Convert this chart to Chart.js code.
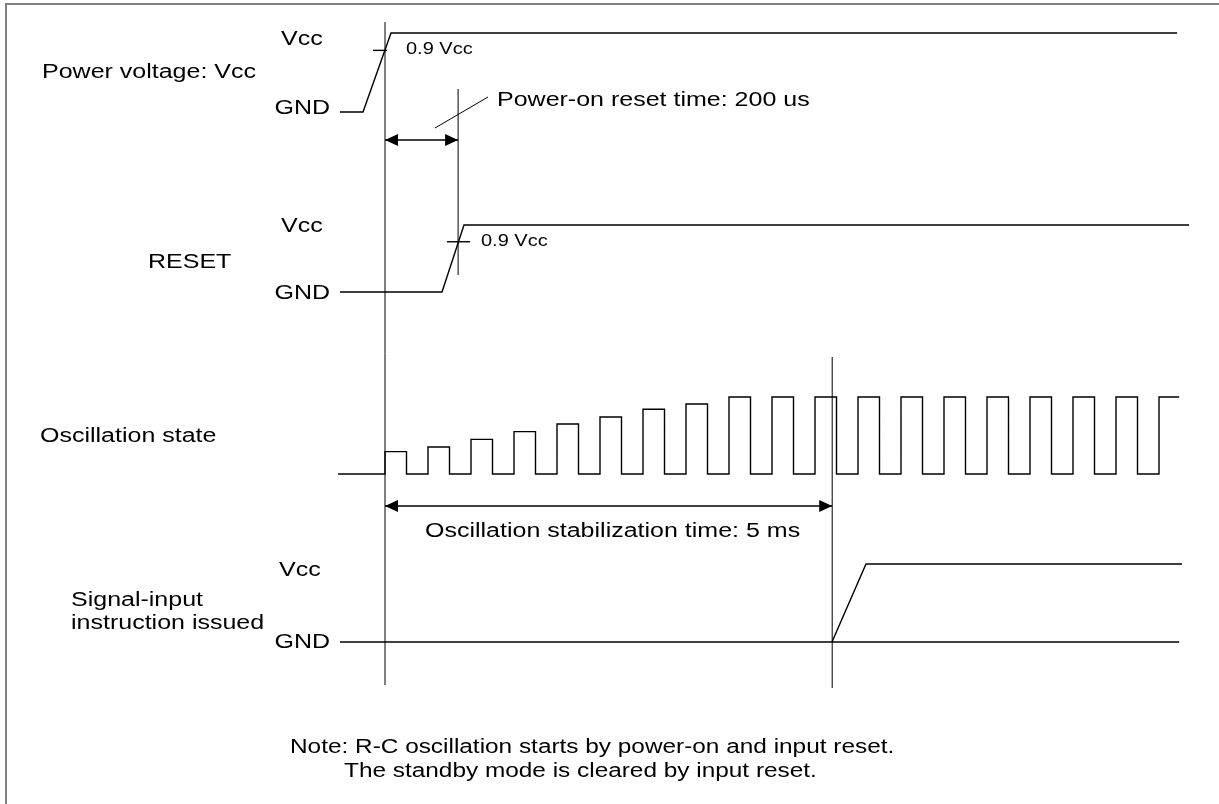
<!DOCTYPE html>
<html>
<head>
<meta charset="utf-8">
<script src="https://cdn.jsdelivr.net/npm/chart.js@4/dist/chart.umd.min.js"></script>
<style>
  body { margin: 0; background: #fff; }
  #wrap { width: 1219px; height: 804px; position: relative; }
</style>
</head>
<body>
<div id="wrap"><canvas id="myChart"></canvas></div>
<script>
// time axis in oscillation periods, 0 = power-on
// signal levels: 0 = GND, 1 = Vcc
const powerT = [-1.047, -0.512, 0.14, 18.42];
const powerLevel = [0, 0, 1, 1];
const powerTickT = [-0.28, 0.05];
const powerTickLevel = 0.78;

const resetT = [-1.047, 1.326, 1.837, 18.7];
const resetLevel = [0, 0, 1, 1];
const resetTickT = [1.44, 1.98];
const resetTickLevel = 0.75;

const oscStartT = -1.09;
const oscRiseT = [0, 1, 2, 3, 4, 5, 6, 7, 8, 9, 10, 11, 12, 13, 14, 15, 16, 17, 18];
const oscAmp = [0.29, 0.35, 0.45, 0.55, 0.65, 0.74, 0.84, 0.91, 1, 1, 1, 1, 1, 1, 1, 1, 1, 1, 1];
const oscHighWidth = 0.5;
const oscEndT = 18.47;

const sigGndT = [-1.047, 18.47];
const sigRiseT = [10.395, 11.186, 18.535];
const sigRiseLevel = [0, 1, 1];

const resetTimeT = 1.7;      // power-on reset time: 200 us
const stableT = 10.4;        // oscillation stabilization time: 5 ms

// layout (pixels)
const W = 1219, H = 804;
const T0PX = 385, PX_PER_T = 43;
const rows = { y0: [112, 33], y1: [292, 225], y2: [474, 397], y3: [642, 564] }; // [GND px, Vcc px]
const SX = 1.25;
const FONT = '"Liberation Sans", Arial, Helvetica, sans-serif';

function rowScale(r) {
    let b = r[0], h = r[1];
    return { type: 'linear', axis: 'y', display: false, min: -(H - b) / (b - h), max: b / (b - h) };
}

function pts(ts, ls) {
    let out = [];
    for (let i = 0; i < ts.length; i++) out.push({ x: ts[i], y: ls[i] });
    return out;
}

let osc = [{ x: oscStartT, y: 0 }];
for (let i = 0; i < oscRiseT.length; i++) {
    let t = oscRiseT[i], a = oscAmp[i];
    osc.push({ x: t, y: 0 }, { x: t, y: a });
    if (i < oscRiseT.length - 1) {
        osc.push({ x: t + oscHighWidth, y: a }, { x: t + oscHighWidth, y: 0 });
    } else {
        osc.push({ x: oscEndT, y: a });
    }
}

function ds(data, axis) {
    return {
        data: data, yAxisID: axis, showLine: true, pointRadius: 0,
        borderColor: '#000', borderWidth: 1.4, fill: false, tension: 0
    };
}

function txt(ctx, s, x, y, size, align) {
    ctx.save();
    ctx.translate(x, y);
    ctx.scale(SX, 1);
    ctx.font = size + 'px ' + FONT;
    ctx.textAlign = align || 'left';
    ctx.textBaseline = 'middle';
    ctx.fillStyle = '#000';
    ctx.fillText(s, 0, 0);
    ctx.restore();
}

function arrow(ctx, x1, x2, y) {
    ctx.beginPath();
    ctx.moveTo(x1, y); ctx.lineTo(x2, y);
    ctx.stroke();
    ctx.beginPath();
    ctx.moveTo(x1, y); ctx.lineTo(x1 + 13, y - 6); ctx.lineTo(x1 + 13, y + 6); ctx.closePath();
    ctx.moveTo(x2, y); ctx.lineTo(x2 - 13, y - 6); ctx.lineTo(x2 - 13, y + 6); ctx.closePath();
    ctx.fill();
}

const decor = {
    id: 'decor',
    afterDatasetsDraw(chart) {
        const ctx = chart.ctx;
        const xs = chart.scales.x;
        const px = t => xs.getPixelForValue(t);
        ctx.save();
        // frame
        ctx.strokeStyle = '#808080';
        ctx.lineWidth = 2;
        ctx.beginPath();
        ctx.moveTo(6, H); ctx.lineTo(6, 4); ctx.lineTo(W, 4);
        ctx.stroke();

        // marker lines
        ctx.strokeStyle = '#000';
        ctx.lineWidth = 1;
        ctx.beginPath();
        ctx.moveTo(px(0), 22); ctx.lineTo(px(0), 685);
        ctx.moveTo(px(resetTimeT), 89); ctx.lineTo(px(resetTimeT), 275);
        ctx.moveTo(px(stableT), 357); ctx.lineTo(px(stableT), 688);
        ctx.moveTo(435, 128); ctx.lineTo(488, 97);
        ctx.stroke();

        ctx.fillStyle = '#000';
        ctx.lineWidth = 1.3;
        arrow(ctx, px(0), px(resetTimeT), 140);
        arrow(ctx, px(0), px(stableT), 506);

        // labels
        txt(ctx, 'Vcc', 281, 39, 20);
        txt(ctx, 'Power voltage: Vcc', 42, 72, 20);
        txt(ctx, 'GND', 330, 108, 20, 'right');
        txt(ctx, '0.9 Vcc', 406, 50, 16);
        txt(ctx, 'Power-on reset time: 200 us', 497, 100, 20);

        txt(ctx, 'Vcc', 281, 226, 20);
        txt(ctx, 'RESET', 148, 262, 20);
        txt(ctx, 'GND', 330, 293, 20, 'right');
        txt(ctx, '0.9 Vcc', 481, 242, 16);

        txt(ctx, 'Oscillation state', 40, 436, 20);
        txt(ctx, 'Oscillation stabilization time: 5 ms', 425, 531, 20);

        txt(ctx, 'Vcc', 279, 570, 20);
        txt(ctx, 'Signal-input', 71, 600, 20);
        txt(ctx, 'instruction issued', 71, 623, 20);
        txt(ctx, 'GND', 330, 642, 20, 'right');

        txt(ctx, 'Note: R-C oscillation starts by power-on and input reset.', 290, 748, 19.5);
        txt(ctx, 'The standby mode is cleared by input reset.', 344, 772, 19.5);
        ctx.restore();
    }
};

var ctx = document.getElementById('myChart').getContext('2d');
var chart = new Chart(ctx, {
    type: 'scatter',
    data: {
        datasets: [
            ds(pts(powerT, powerLevel), 'y0'),
            ds(pts(powerTickT, [powerTickLevel, powerTickLevel]), 'y0'),
            ds(pts(resetT, resetLevel), 'y1'),
            ds(pts(resetTickT, [resetTickLevel, resetTickLevel]), 'y1'),
            ds(osc, 'y2'),
            ds(pts(sigGndT, [0, 0]), 'y3'),
            ds(pts(sigRiseT, sigRiseLevel), 'y3')
        ]
    },
    options: {
        responsive: true,
        maintainAspectRatio: false,
        animation: false,
        layout: { padding: 0 },
        plugins: { legend: { display: false }, tooltip: { enabled: false } },
        scales: {
            x: { type: 'linear', axis: 'x', display: false, min: -T0PX / PX_PER_T, max: (W - T0PX) / PX_PER_T },
            y0: rowScale(rows.y0),
            y1: rowScale(rows.y1),
            y2: rowScale(rows.y2),
            y3: rowScale(rows.y3)
        }
    },
    plugins: [decor]
});
</script>
</body>
</html>
